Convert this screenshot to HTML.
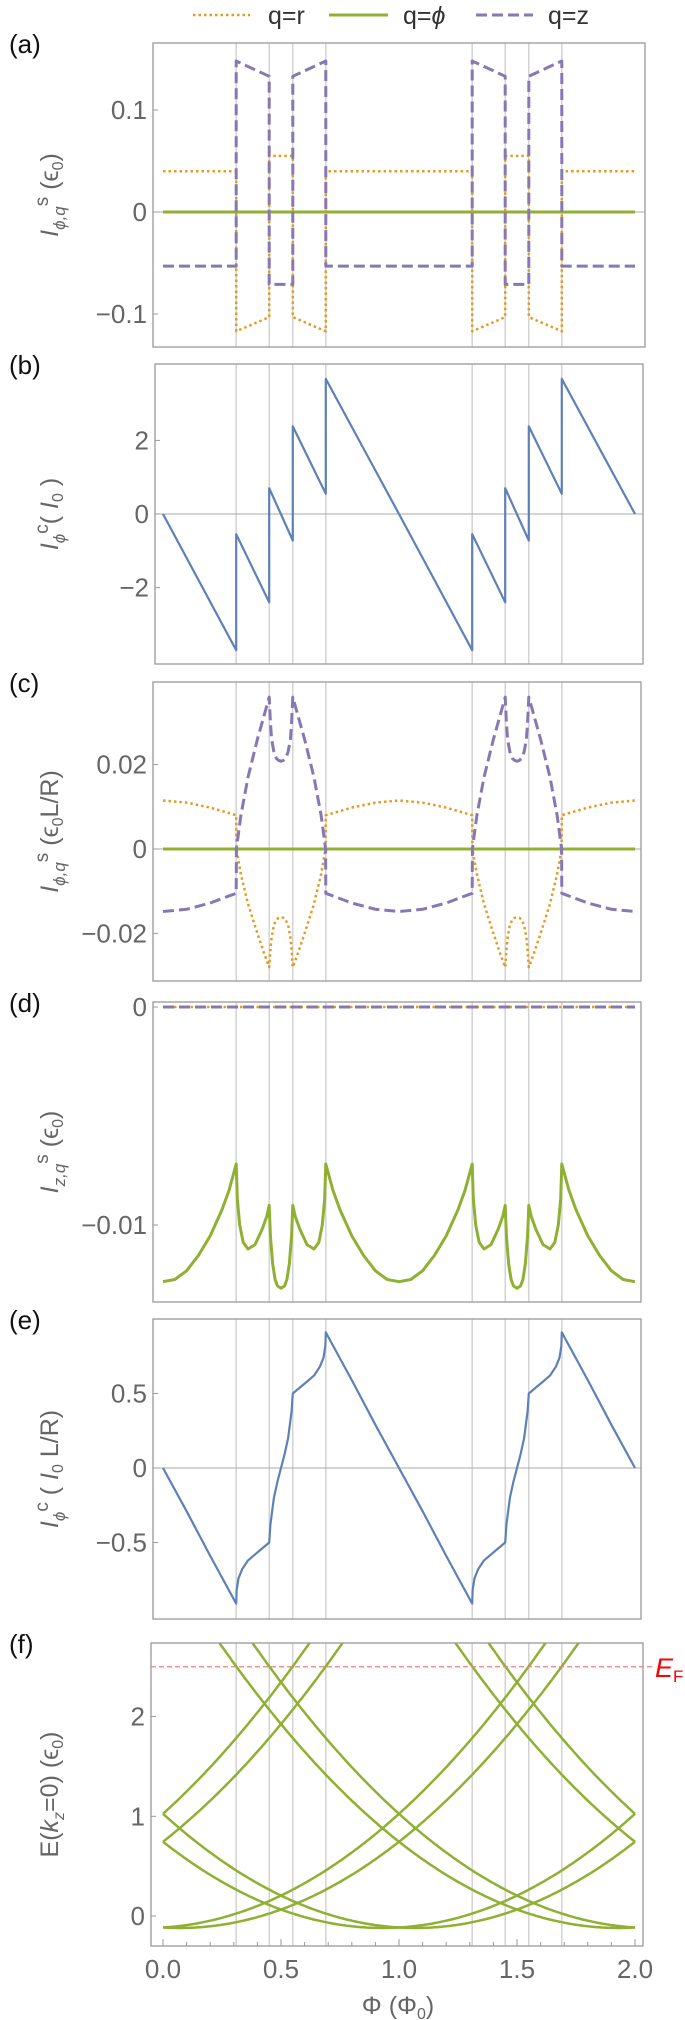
<!DOCTYPE html>
<html><head><meta charset="utf-8"><style>
html,body{margin:0;padding:0;background:#fff;}
svg{display:block;font-family:"Liberation Sans",sans-serif;}
</style></head><body>
<svg id="fig" width="685" height="2020" viewBox="0 0 685 2020" xmlns="http://www.w3.org/2000/svg">
<g id="legend">
  <g>
    <line x1="193" y1="15" x2="250" y2="15" stroke="#E19C24" stroke-width="2.5" stroke-dasharray="2.5,3"/>
    <text x="268" y="24" font-size="25" fill="#333">q=r</text>
  </g>
  <g>
    <line x1="329" y1="15" x2="388" y2="15" stroke="#8FB032" stroke-width="3"/>
    <text x="403" y="24" font-size="25" fill="#333">q=<tspan font-style="italic">ϕ</tspan></text>
  </g>
  <g>
    <line x1="476" y1="15" x2="533" y2="15" stroke="#8778B3" stroke-width="3" stroke-dasharray="11,5"/>
    <text x="548" y="24" font-size="25" fill="#333">q=z</text>
  </g>
</g>
</svg>
<script>
const NS="http://www.w3.org/2000/svg";
const svg=document.getElementById('fig');
// shared
const phiGrid=[0.31,0.45,0.55,0.69,1.31,1.45,1.55,1.69];
// panel a (one period)
const aPhi=[0,0.31,0.31,0.45,0.45,0.55,0.55,0.69,0.69,1];
const aR=[0.04,0.04,-0.117,-0.103,0.055,0.055,-0.103,-0.117,0.04,0.04];
const aZ=[-0.053,-0.053,0.148,0.133,-0.071,-0.071,0.133,0.148,-0.053,-0.053];
const aTicks=[0.1,0,-0.1];
const aTickLabels=["0.1","0","\u22120.1"];
// panel b (one period)
const bPhi=[0,0.31,0.31,0.45,0.45,0.55,0.55,0.69,0.69,1];
const bVal=[0,-3.7,-0.55,-2.4,0.7,-0.72,2.38,0.55,3.67,0];
const bTicks=[2,0,-2];
const bTickLabels=["2","0","\u22122"];
// panel c (half period 0..0.5, symmetric about 0.5)
const cPhiHalf=[0,0.1,0.2,0.31,0.311,0.33,0.36,0.40,0.43,0.45,0.455,0.46,0.47,0.48,0.49,0.5];
const cRHalf=[0.0115,0.011,0.0098,0.008,0,-0.006,-0.013,-0.020,-0.025,-0.028,-0.024,-0.021,-0.018,-0.0168,-0.0163,-0.0162];
const cZHalf=[-0.0148,-0.0143,-0.0128,-0.0105,0,0.008,0.017,0.026,0.032,0.036,0.030,0.026,0.023,0.0215,0.021,0.0208];
const cTicks=[0.02,0,-0.02];
const cTickLabels=["0.02","0","\u22120.02"];
// panel d (half period, symmetric)
const dPhiHalf=[0,0.05,0.1,0.15,0.2,0.25,0.28,0.31,0.315,0.325,0.34,0.36,0.39,0.42,0.44,0.45,0.455,0.465,0.475,0.485,0.5];
const dValHalf=[-0.0126,-0.0125,-0.0121,-0.0114,-0.0105,-0.0093,-0.0084,-0.0072,-0.0088,-0.0100,-0.0108,-0.0111,-0.0109,-0.0102,-0.0096,-0.0091,-0.0105,-0.0118,-0.0125,-0.0128,-0.0129];
const dTicks=[0,-0.01];
const dTickLabels=["0","\u22120.01"];
// panel e (half period, antisymmetric about 0.5)
const ePhiHalf=[0,0.1,0.2,0.31,0.312,0.32,0.335,0.36,0.39,0.42,0.45,0.455,0.47,0.485,0.5];
const eValHalf=[0,-0.29,-0.59,-0.91,-0.82,-0.74,-0.68,-0.62,-0.58,-0.54,-0.5,-0.38,-0.2,-0.09,0];
const eTicks=[0.5,0,-0.5];
const eTickLabels=["0.5","0","\u22120.5"];
// panel f
const fCenters=[-1.07,-0.93,-0.07,0.07,0.93,1.07,1.93,2.07,2.93,3.07];
const fCurv=[1];
const fMin=[-0.12];
const fEF=[2.5];
const fTicks=[2,1,0];
const fTickLabels=["2","1","0"];
const xTicks=[0,0.5,1,1.5,2];
const xTickLabels=["0.0","0.5","1.0","1.5","2.0"];

const C={r:"#E19C24",phi:"#8FB032",z:"#8778B3",b:"#5E81B5"};
function xs(p){return 163+p*236;}
function mk(tag,attrs,parent){const e=document.createElementNS(NS,tag);for(const k in attrs)e.setAttribute(k,attrs[k]);(parent||svg).appendChild(e);return e;}
function mirror(ph,v,sign){const P=ph.slice(),V=v.slice();for(let i=ph.length-2;i>=0;i--){P.push(1-ph[i]);V.push(sign*v[i]);}return [P,V];}
function twoPeriods(ph,v){const P=[],V=[];for(let k=0;k<2;k++){for(let i=0;i<ph.length;i++){if(k===1&&i===0)continue;P.push(ph[i]+k);V.push(v[i]);}}return [P,V];}
function pathFrom(P,V,ys){return P.map((p,i)=>(i?'L':'M')+xs(p).toFixed(1)+','+ys(V[i]).toFixed(1)).join(' ');}

function panel(o){
  const g=mk('g',{});
  
  
  const ys=v=>o.y0-v*o.k;
  const cid='clip'+o.id;
  const cp=mk('clipPath',{id:cid},g);mk('rect',{x:o.L,y:o.T,width:o.R-o.L,height:o.B-o.T},cp);
  phiGrid.forEach(p=>{const l=mk('line',{x1:xs(p),x2:xs(p),y1:o.T,y2:o.B,stroke:'#c8c8c8','stroke-width':1.2},g);
    });
  if(o.zero){const z=mk('line',{x1:o.L,x2:o.R,y1:ys(0),y2:ys(0),stroke:'#aaa','stroke-width':1},g);
    }
  const fr=mk('rect',{x:o.L,y:o.T,width:o.R-o.L,height:o.B-o.T,fill:'none',stroke:'#999','stroke-width':1.3},g);
  
  o.ticks.forEach((t,i)=>{mk('line',{x1:o.L,x2:o.L+5,y1:ys(t),y2:ys(t),stroke:'#999','stroke-width':1},g);
    const tx=mk('text',{x:o.L-6,y:ys(t)+9,'font-size':26,fill:'#666','text-anchor':'end'},g);tx.textContent=o.labels[i];
    });
  const pl=mk('text',{x:9,y:o.T+10,'font-size':26,fill:'#111'},g);pl.textContent='('+o.id+')';
  
  const cy=(o.T+o.B)/2;
  const yt=mk('text',{transform:`translate(58,${cy}) rotate(-90)`,'font-size':25,fill:'#666','text-anchor':'middle'},g);
  yt.innerHTML=o.title;
  
  const sg=mk('g',{'clip-path':`url(#${cid})`},g);
  (o.series||[]).forEach(s=>{const [P,V]=twoPeriods(s.ph,s.v);
    const pa=mk('path',{d:pathFrom(P,V,ys),fill:'none',stroke:s.c,'stroke-width':s.w||2.5,'stroke-dasharray':s.dash||'none','stroke-linejoin':'round'},sg);
    });
  return {g,ys,sg};
}
const sub=(t)=>`<tspan dy="7" font-size="17" font-style="italic">${t}</tspan>`;
const DOT='2.5,3', DASH='11,5';
const [cP,cR]=mirror(cPhiHalf,cRHalf,1);
const [cP2,cZ]=mirror(cPhiHalf,cZHalf,1);
const [dP,dV]=mirror(dPhiHalf,dValHalf,1);
const [eP,eV]=mirror(ePhiHalf,eValHalf,-1);
panel({id:'a',L:153,R:645,T:43,B:347,y0:212,k:1020,zero:true,ticks:aTicks,labels:aTickLabels,
  title:`<tspan font-style="italic">I</tspan>${sub('ϕ,q')}<tspan dy="-17" font-size="19">s</tspan><tspan dy="10"> (ϵ</tspan><tspan dy="5" font-size="16">0</tspan><tspan dy="-5">)</tspan>`,
  series:[{ph:aPhi,v:aPhi.map(()=>0),c:C.phi,w:3,name:'series-q-phi'},{ph:aPhi,v:aR,c:C.r,dash:DOT,name:'series-q-r'},{ph:aPhi,v:aZ,c:C.z,w:3,dash:DASH,name:'series-q-z'}]});
panel({id:'b',L:155,R:643,T:364,B:664,y0:514,k:36.8,zero:true,ticks:bTicks,labels:bTickLabels,
  title:`<tspan font-style="italic">I</tspan>${sub('ϕ')}<tspan dy="-17" font-size="19">c</tspan><tspan dy="10">( </tspan><tspan font-style="italic">I</tspan><tspan dy="5" font-size="16">0</tspan><tspan dy="-5"> )</tspan>`,
  series:[{ph:bPhi,v:bVal,c:C.b,w:2.2,name:'series-current-b'}]});
panel({id:'c',L:153,R:641,T:682,B:981,y0:849,k:4220,zero:true,ticks:cTicks,labels:cTickLabels,
  title:`<tspan font-style="italic">I</tspan>${sub('ϕ,q')}<tspan dy="-17" font-size="19">s</tspan><tspan dy="10">  (ϵ</tspan><tspan dy="5" font-size="16">0</tspan><tspan dy="-5">L/R)</tspan>`,
  series:[{ph:cP,v:cP.map(()=>0),c:C.phi,w:3,name:'series-q-phi'},{ph:cP,v:cR,c:C.r,dash:DOT,name:'series-q-r'},{ph:cP2,v:cZ,c:C.z,w:3,dash:DASH,name:'series-q-z'}]});
panel({id:'d',L:153,R:641,T:1002,B:1302,y0:1007,k:21800,zero:false,ticks:dTicks,labels:dTickLabels,
  title:`<tspan font-style="italic">I</tspan>${sub('z,q')}<tspan dy="-17" font-size="19">s</tspan><tspan dy="10"> (ϵ</tspan><tspan dy="5" font-size="16">0</tspan><tspan dy="-5">)</tspan>`,
  series:[{ph:dP,v:dV,c:C.phi,w:3,name:'series-q-phi'},{ph:dP,v:dP.map(()=>0),c:C.r,dash:DOT,name:'series-q-r'},{ph:dP,v:dP.map(()=>0),c:C.z,w:3,dash:DASH,name:'series-q-z'}]});
panel({id:'e',L:153,R:641,T:1319,B:1619,y0:1468,k:149,zero:true,ticks:eTicks,labels:eTickLabels,
  title:`<tspan font-style="italic">I</tspan>${sub('ϕ')}<tspan dy="-17" font-size="19">c</tspan><tspan dy="10"> ( </tspan><tspan font-style="italic">I</tspan><tspan dy="5" font-size="16">0</tspan><tspan dy="-5"> L/R)</tspan>`,
  series:[{ph:eP,v:eV,c:C.b,w:2.2,name:'series-current-e'}]});
const F=panel({id:'f',L:151,R:643,T:1643,B:1946,y0:1916,k:99.7,zero:false,ticks:fTicks,labels:fTickLabels,
  title:`E(<tspan font-style="italic">k</tspan><tspan dy="6" font-size="16" font-style="italic">z</tspan><tspan dy="-6">=0)  (ϵ</tspan><tspan dy="5" font-size="16">0</tspan><tspan dy="-5">)</tspan>`,series:[]});
fCenters.forEach(c=>{const P=[],V=[];for(let i=0;i<=200;i++){const p=i/100;P.push(p);V.push(fCurv[0]*(p-c)*(p-c)+fMin[0]);}
  const pa=mk('path',{d:P.map((p,i)=>(i?'L':'M')+xs(p).toFixed(1)+','+F.ys(V[i]).toFixed(1)).join(' '),fill:'none',stroke:C.phi,'stroke-width':2.5},F.sg);
  });
const ef=mk('line',{x1:151,x2:655,y1:F.ys(fEF[0]),y2:F.ys(fEF[0]),stroke:'#f08080','stroke-width':1.3,'stroke-dasharray':'5,3'},F.g);

const eft=mk('text',{x:655,y:F.ys(fEF[0])+10,'font-size':27,fill:'#f00','font-style':'italic'},F.g);
eft.innerHTML='E<tspan font-style="normal" font-size="17" dy="5">F</tspan>';

for(let i=0;i<=20;i++){const p=i/10;const major=i%5===0;
  mk('line',{x1:xs(p),x2:xs(p),y1:1946,y2:1946-(major?7:4),stroke:'#999','stroke-width':1},F.g);}
xTicks.forEach((t,i)=>{const tx=mk('text',{x:xs(t),y:1978,'font-size':26,fill:'#666','text-anchor':'middle'},F.g);tx.textContent=xTickLabels[i];
  });
const xt=mk('text',{x:398,y:2014,'font-size':25,fill:'#666','text-anchor':'middle'},F.g);
xt.innerHTML='Φ (Φ<tspan dy="5" font-size="16">0</tspan><tspan dy="-5">)</tspan>';

</script>
</body></html>
